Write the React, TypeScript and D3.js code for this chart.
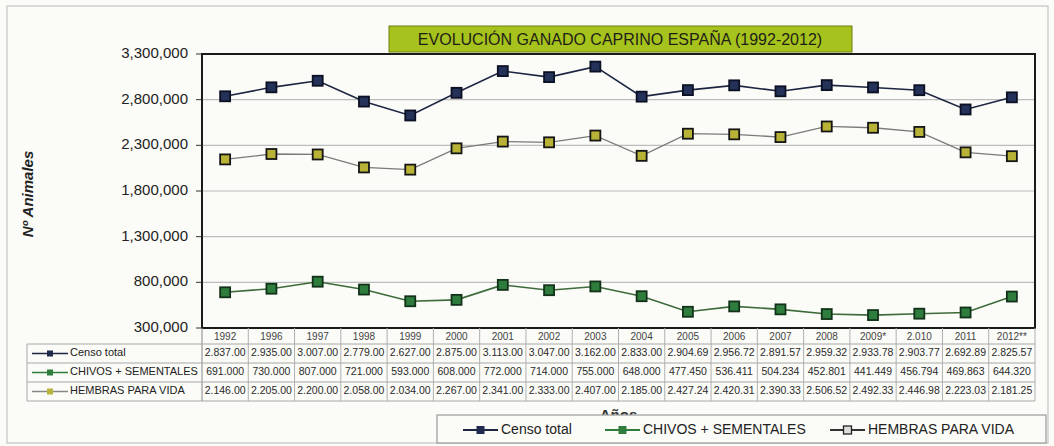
import React from "react";
import * as d3 from "d3";

const years = ["1992","1996","1997","1998","1999","2000","2001","2002","2003","2004","2005","2006","2007","2008","2009*","2.010","2011","2012**"];
const censoTotal = [2837000,2935000,3007000,2779000,2627000,2875000,3113000,3047000,3162000,2833000,2904690,2956720,2891570,2959320,2933780,2903770,2692890,2825570];
const chivos = [691000,730000,807000,721000,593000,608000,772000,714000,755000,648000,477450,536411,504234,452801,441449,456794,469863,644320];
const hembras = [2146000,2205000,2200000,2058000,2034000,2267000,2341000,2333000,2407000,2185000,2427240,2420310,2390330,2506520,2492330,2446980,2223030,2181250];
const censoLabels = ["2.837.00","2.935.00","3.007.00","2.779.00","2.627.00","2.875.00","3.113.00","3.047.00","3.162.00","2.833.00","2.904.69","2.956.72","2.891.57","2.959.32","2.933.78","2.903.77","2.692.89","2.825.57"];
const chivosLabels = ["691.000","730.000","807.000","721.000","593.000","608.000","772.000","714.000","755.000","648.000","477.450","536.411","504.234","452.801","441.449","456.794","469.863","644.320"];
const hembrasLabels = ["2.146.00","2.205.00","2.200.00","2.058.00","2.034.00","2.267.00","2.341.00","2.333.00","2.407.00","2.185.00","2.427.24","2.420.31","2.390.33","2.506.52","2.492.33","2.446.98","2.223.03","2.181.25"];
const yTicks = [300000,800000,1300000,1800000,2300000,2800000,3300000];
const seriesNames = ["Censo  total","CHIVOS + SEMENTALES","HEMBRAS PARA VIDA"];
const title = "EVOLUCIÓN GANADO CAPRINO ESPAÑA (1992-2012)";

const W = 1054, H = 446;
const plot = { left: 202, right: 1035, top: 54, bottom: 328 };
const rowTops = [344, 363, 382, 401];
const labelLeft = 27;

const styles = [
  { line: "#1c2541", lw: 1.6, fill: "#243158", stroke: "#0b1022", mini: "#1f2a4d", lineMini: "#1c2541" },
  { line: "#3d6b3a", lw: 1.6, fill: "#2f7d3c", stroke: "#12331a", mini: "#2f7d3c", lineMini: "#2f7d3c" },
  { line: "#7a7a7a", lw: 1.3, fill: "#b8b236", stroke: "#151515", mini: "#b9b43c", lineMini: "#888" },
];

export default function App() {
  const x = d3.scaleBand<string>().domain(years).range([plot.left, plot.right]).padding(0);
  const y = d3.scaleLinear().domain([300000, 3300000]).range([plot.bottom, plot.top]);
  const cx = (i: number) => (x(years[i]) as number) + x.bandwidth() / 2;
  const lineGen = d3.line<number>().x((_, i) => cx(i)).y((d) => y(d));
  const data = [censoTotal, chivos, hembras];
  const labels = [censoLabels, chivosLabels, hembrasLabels];
  const fmt = d3.format(",");
  const font = "'Liberation Sans', Arial, sans-serif";
  const ms = 10;

  return (
    <svg width={W} height={H} style={{ position: "absolute", left: 0, top: 0, background: "#fbfbf8" }} fontFamily={font}>
      <rect x={0} y={0} width={W} height={H} fill="#fbfbf8" />
      <rect x={7} y={6} width={1041} height={437} fill="none" stroke="#c4c4c4" strokeWidth={1.2} />

      {/* grid */}
      {yTicks.map((t) => (
        <g key={t}>
          {t > 300000 && t < 3300000 && (
            <line x1={plot.left} x2={plot.right} y1={y(t)} y2={y(t)} stroke="#bcbcbc" strokeWidth={1.2} />
          )}
          <line x1={plot.left - 6} x2={plot.left} y1={y(t)} y2={y(t)} stroke="#333" strokeWidth={1} />
          <text x={188} y={y(t)} textAnchor="end" dominantBaseline="middle" fontSize={15} fill="#222">{fmt(t)}</text>
        </g>
      ))}

      {/* plot frame */}
      <rect x={plot.left} y={plot.top} width={plot.right - plot.left} height={plot.bottom - plot.top} fill="none" stroke="#1a1a1a" strokeWidth={2} />

      {/* title */}
      <rect x={389} y={26} width={463} height={26} fill="#a6c21c" stroke="#6f7f10" strokeWidth={1} />
      <text x={620} y={45} textAnchor="middle" fontSize={16} fill="#1e1e18">{title}</text>

      {/* y axis title */}
      <text transform={`translate(33,${194}) rotate(-90)`} textAnchor="middle" fontSize={15} fontWeight="bold" fontStyle="italic" fill="#222">Nº Animales</text>

      {/* series */}
      {data.map((vals, si) => (
        <g key={si}>
          <path d={lineGen(vals) || ""} fill="none" stroke={styles[si].line} strokeWidth={styles[si].lw} />
          {vals.map((v, i) => (
            <rect key={i} x={cx(i) - ms / 2} y={y(v) - ms / 2} width={ms} height={ms} fill={styles[si].fill} stroke={styles[si].stroke} strokeWidth={1.8} />
          ))}
        </g>
      ))}

      {/* data table */}
      <g>
        {years.map((yr) => (
          <text key={yr} x={(x(yr) as number) + x.bandwidth() / 2} y={337} textAnchor="middle" dominantBaseline="middle" fontSize={10} fill="#444">{yr}</text>
        ))}
        {years.map((yr, i) => (
          <line key={"v" + i} x1={(x(yr) as number) + x.bandwidth()} x2={(x(yr) as number) + x.bandwidth()} y1={plot.bottom} y2={rowTops[3]} stroke="#b0b0b0" strokeWidth={1} />
        ))}
        <line x1={plot.left} x2={plot.left} y1={plot.bottom} y2={rowTops[3]} stroke="#9a9a9a" strokeWidth={1.2} />
        {rowTops.map((t, i) => (
          <line key={"h" + i} x1={labelLeft} x2={plot.right} y1={t} y2={t} stroke="#a8a8a8" strokeWidth={1} />
        ))}
        <line x1={labelLeft} x2={labelLeft} y1={rowTops[0]} y2={rowTops[3]} stroke="#a8a8a8" strokeWidth={1} />
        {seriesNames.map((nm, si) => {
          const cy = (rowTops[si] + rowTops[si + 1]) / 2;
          return (
            <g key={nm}>
              <line x1={32} x2={68} y1={cy} y2={cy} stroke={styles[si].lineMini} strokeWidth={1.6} />
              <rect x={47} y={cy - 3} width={6} height={6} fill={styles[si].mini} />
              <text x={70} y={cy} dominantBaseline="middle" fontSize={11} fill="#222">{nm}</text>
              {labels[si].map((lb, i) => (
                <text key={i} x={cx(i)} y={cy} textAnchor="middle" dominantBaseline="middle" fontSize={10.5} fill="#2a2a2a">{lb}</text>
              ))}
            </g>
          );
        })}
      </g>

      {/* x axis title (partly hidden by legend) */}
      <text x={(plot.left + plot.right) / 2} y={420} textAnchor="middle" fontSize={15} fontWeight="bold" fill="#333">Años</text>

      {/* legend */}
      <rect x={437} y={415} width={609} height={28} fill="#fbfbf8" stroke="#9a9a9a" strokeWidth={1.2} />
      {seriesNames.map((nm, si) => {
        const lx = [463, 605, 830][si];
        const cy = 430;
        return (
          <g key={"lg" + si}>
            <line x1={lx} x2={lx + 35} y1={cy} y2={cy} stroke={si === 2 ? "#333" : styles[si].lineMini} strokeWidth={1.8} />
            <rect x={lx + 13.5} y={cy - 4} width={8} height={8} fill={si === 2 ? "#ddd" : styles[si].mini} stroke={si === 2 ? "#222" : styles[si].mini} strokeWidth={si === 2 ? 1.3 : 0} />
            <text x={lx + 38} y={cy} dominantBaseline="middle" fontSize={14} fill="#222">{nm}</text>
          </g>
        );
      })}
    </svg>
  );
}
